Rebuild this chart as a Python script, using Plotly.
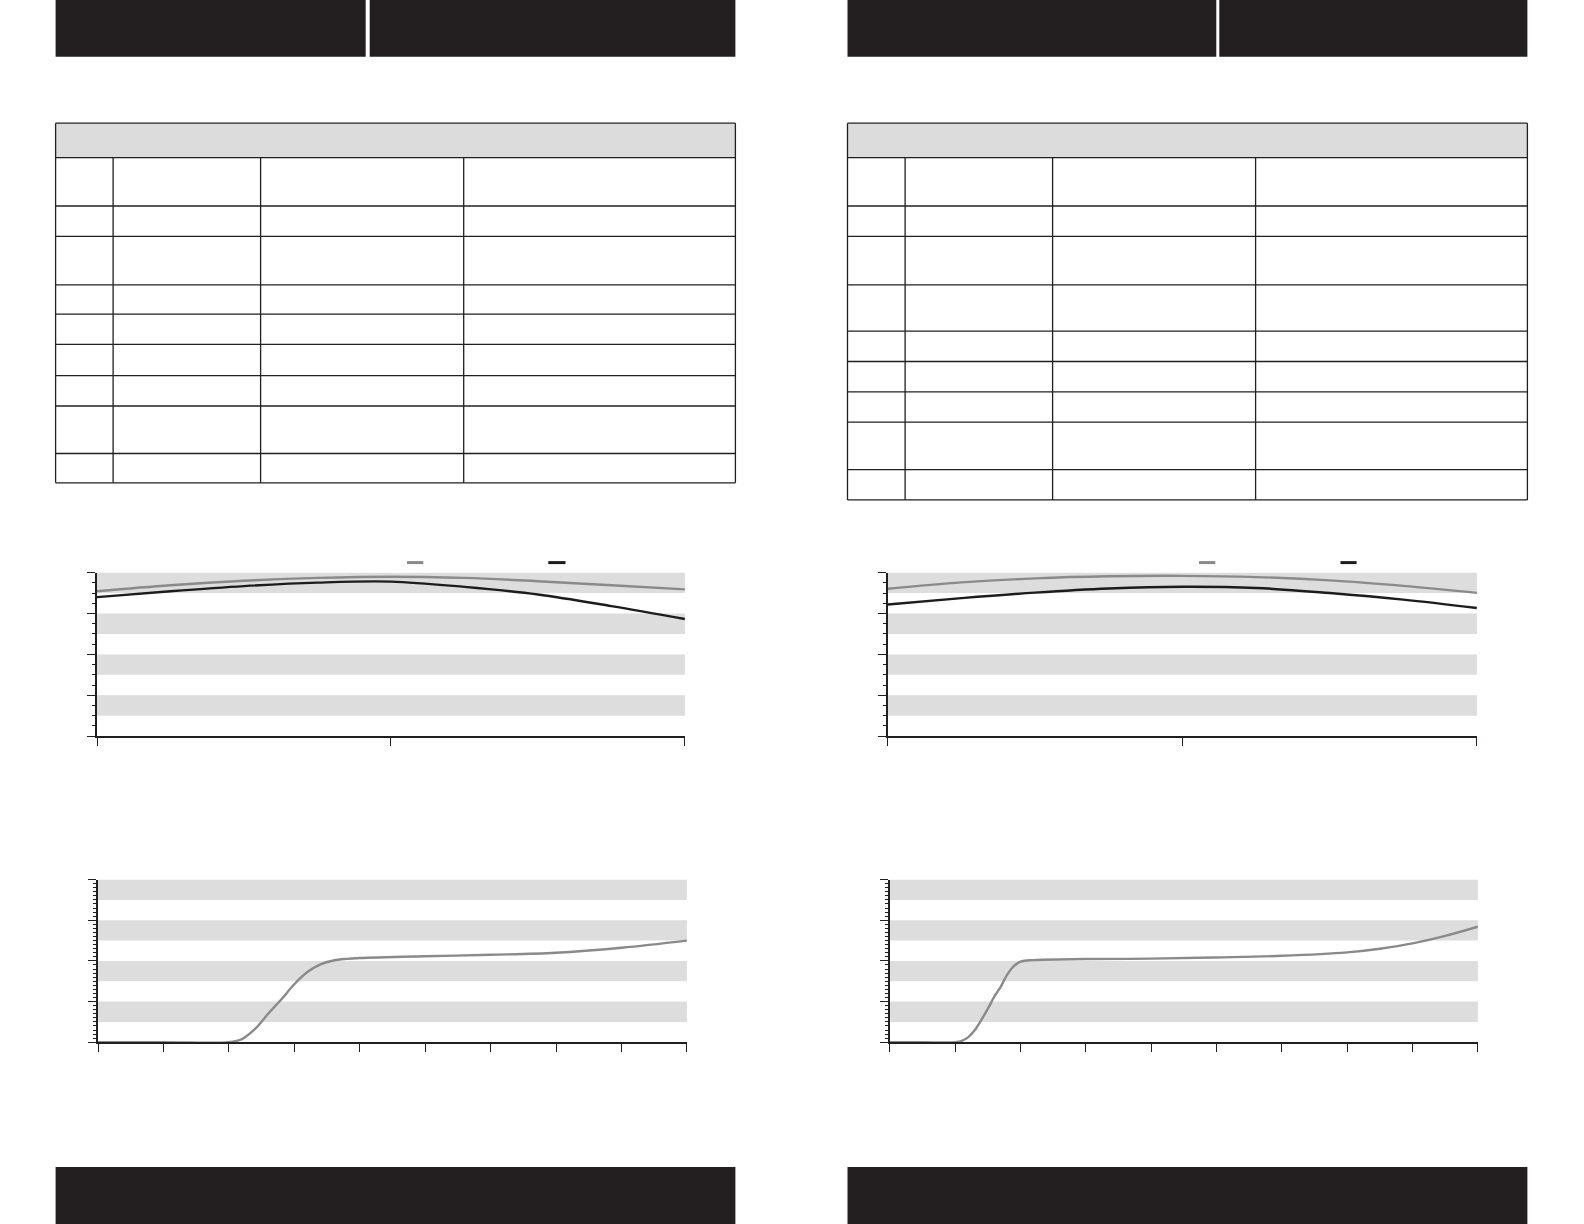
import plotly.graph_objects as go

# the page is laid out in screen pixels (1584 x 1224)
PAGE_W, PAGE_H = 1584, 1224

# ---- data ----
# upper charts: two curves each, x from 0 to 2
upper_x = [0, 0.25, 0.5, 0.75, 1.0, 1.25, 1.5, 1.75, 2.0]
upper_left_grey = [70.9, 73.8, 76.0, 77.4, 78.0, 77.4, 75.8, 73.8, 71.8]
upper_left_black = [68.0, 70.9, 73.4, 75.1, 75.6, 73.0, 69.3, 63.6, 57.3]
upper_right_grey = [72.1, 75.2, 77.2, 78.2, 78.4, 77.8, 76.2, 73.5, 70.1]
upper_right_black = [64.4, 67.5, 70.2, 72.2, 73.1, 72.5, 70.0, 66.8, 62.7]

# lower charts: one s-shaped curve each, x from 0 to 9
lower_left_x = [0, 1, 2, 2.2, 2.4, 2.6, 2.8, 3.0, 3.2, 3.4, 3.6, 3.8, 4, 5, 6, 7, 8, 9]
lower_left_y = [0, 0, 0, 1.5, 6.5, 14, 21, 28.5, 34.5, 38.3, 40.2, 41.0, 41.4, 42.3, 43.0, 44.0, 46.5, 50.0]
lower_right_x = [0, 0.5, 1.0, 1.1, 1.2, 1.3, 1.4, 1.5, 1.6, 1.7, 1.8, 1.9, 2.0, 2.2, 3, 4, 5, 6, 7, 7.5, 8, 8.5, 9]
lower_right_y = [0, 0, 0, 0.6, 2.5, 6, 11, 16.5, 22.5, 27.5, 33.5, 37.5, 39.6, 40.4, 40.9, 41.1, 41.7, 42.5, 44.2, 46.0, 48.6, 52.3, 56.8]

DARK = "#231f20"
BAND = "#dddddd"
GREY_LINE = "#8a8a8a"
BLACK_LINE = "#1c1c1c"


def px(x):
    return x / PAGE_W


def py(y):
    return 1 - y / PAGE_H


fig = go.Figure()

# (axis suffix, x px range, y px range, x range, minor y dtick)
panels = [
    ("", (97.0, 684.9), (572.6, 736.2), 2, 5),
    ("2", (887.9, 1476.9), (572.6, 736.2), 2, 5),
    ("3", (98.0, 686.9), (879.6, 1042.2), 9, 2),
    ("4", (889.9, 1477.9), (879.6, 1042.2), 9, 2),
]

layout_axes = {}
shapes = []
for suf, (x0, x1), (y0, y1), xmax, minor in panels:
    layout_axes["xaxis" + suf] = dict(
        domain=[px(x0), px(x1)], range=[0, xmax], anchor="y" + suf,
        showline=True, linecolor=DARK, linewidth=1.5,
        ticks="outside", ticklen=8, tickwidth=1.3, tickcolor=DARK,
        tick0=0, dtick=1, showticklabels=False,
        showgrid=False, zeroline=False, fixedrange=True,
    )
    layout_axes["yaxis" + suf] = dict(
        domain=[py(y1), py(y0)], range=[0, 80], anchor="x" + suf,
        showline=True, linecolor=DARK, linewidth=1.5,
        ticks="outside", ticklen=8, tickwidth=1.3, tickcolor=DARK,
        tick0=0, dtick=20, showticklabels=False,
        minor=dict(ticks="outside", ticklen=3, tickwidth=1, tickcolor=DARK, dtick=minor),
        showgrid=False, zeroline=False, fixedrange=True,
    )
    # alternating grey bands
    for lo in range(10, 80, 20):
        shapes.append(dict(
            type="rect", xref=("x" + suf) + " domain", yref="y" + suf,
            x0=0, x1=1, y0=lo, y1=lo + 10,
            fillcolor=BAND, line=dict(width=0), layer="below",
        ))


def add_line(x, y, color, xa, ya):
    fig.add_trace(go.Scatter(
        x=x, y=y, mode="lines", xaxis=xa, yaxis=ya,
        line=dict(color=color, width=2.4, shape="spline", smoothing=1.0),
        showlegend=False, hoverinfo="skip",
    ))


add_line(upper_x, upper_left_grey, GREY_LINE, "x", "y")
add_line(upper_x, upper_left_black, BLACK_LINE, "x", "y")
add_line(upper_x, upper_right_grey, GREY_LINE, "x2", "y2")
add_line(upper_x, upper_right_black, BLACK_LINE, "x2", "y2")
add_line(lower_left_x, lower_left_y, GREY_LINE, "x3", "y3")
add_line(lower_right_x, lower_right_y, GREY_LINE, "x4", "y4")


def rect(x0, y0, x1, y1, fill, line_w=0):
    shapes.append(dict(
        type="rect", xref="paper", yref="paper",
        x0=px(x0), x1=px(x1), y0=py(y1), y1=py(y0),
        fillcolor=fill, line=dict(width=line_w, color=DARK),
    ))


def seg(x0, y0, x1, y1, color=DARK, w=1.3):
    shapes.append(dict(
        type="line", xref="paper", yref="paper",
        x0=px(x0), x1=px(x1), y0=py(y0), y1=py(y1),
        line=dict(color=color, width=w),
    ))


# header and footer bars
rect(55.6, 0, 365.7, 56.7, DARK)
rect(369.7, 0, 735.4, 56.7, DARK)
rect(847.5, 0, 1216.3, 56.7, DARK)
rect(1219.3, 0, 1527.4, 56.7, DARK)
rect(55.6, 1167, 735.4, PAGE_H, DARK)
rect(847.5, 1167, 1527.4, PAGE_H, DARK)

# empty tables
tables = [
    ([55.6, 113.1, 260.6, 463.7, 735.4],
     [123.2, 157.6, 206.0, 236.4, 284.8, 314.1, 344.4, 375.7, 406.0, 453.5, 482.8]),
    ([847.5, 905.1, 1052.6, 1255.6, 1527.4],
     [123.2, 157.6, 206.0, 236.4, 284.8, 331.2, 361.5, 391.8, 422.1, 469.6, 499.9]),
]
for cols, rows in tables:
    rect(cols[0], rows[0], cols[-1], rows[1], "#dcdcdc")
    for r in rows:
        seg(cols[0], r, cols[-1], r)
    seg(cols[0], rows[0], cols[0], rows[-1])
    seg(cols[-1], rows[0], cols[-1], rows[-1])
    for c in cols[1:-1]:
        seg(c, rows[1], c, rows[-1])

# legend keys above the upper charts
seg(407.0, 562.6, 423.3, 562.6, GREY_LINE, 3)
seg(548.3, 562.6, 565.5, 562.6, BLACK_LINE, 3)
seg(1199.0, 562.6, 1215.3, 562.6, GREY_LINE, 3)
seg(1340.5, 562.6, 1356.6, 562.6, BLACK_LINE, 3)

fig.update_layout(
    width=PAGE_W, height=PAGE_H,
    margin=dict(l=0, r=0, t=0, b=0),
    paper_bgcolor="white", plot_bgcolor="white",
    showlegend=False,
    shapes=shapes,
    **layout_axes,
)

fig.write_html(
    "out.html",
    config={"displayModeBar": False},
    post_script="document.body.style.margin='0';document.body.style.overflow='hidden';",
)
